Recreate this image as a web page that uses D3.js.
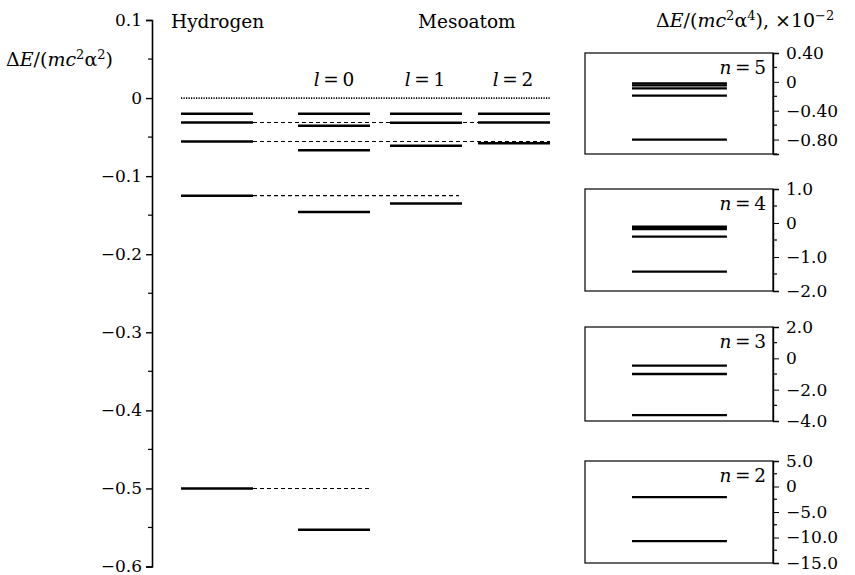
<!DOCTYPE html>
<html>
<head>
<meta charset="utf-8">
<script src="https://cdn.jsdelivr.net/npm/d3@7"></script>
<style>
  body { margin: 0; background: #fff; }
  text { font-family: "DejaVu Serif", serif; fill: #000; }
</style>
</head>
<body>
<svg width="855" height="575"></svg>
<script>
// 数据 —— 左侧：能级 ΔE/(mc²α²)
const columns = ["H", "l=0", "l=1", "l=2"];
const hydrogenLevels = [-0.5, -0.125, -0.0556, -0.03125, -0.02];
const hydrogenReach = ["l=0", "l=1", "l=2", "l=2", null];   // 虚线延伸到哪一列
const mesoL0 = [-0.553, -0.146, -0.0667, -0.0355, -0.02];
const mesoL1 = [-0.135, -0.061, -0.0316, -0.02];
const mesoL2 = [-0.058, -0.0312, -0.02];
const leftTicks = [0.1, 0, -0.1, -0.2, -0.3, -0.4, -0.5, -0.6];
const leftTickLabels = ["0.1", "0", "\u22120.1", "\u22120.2", "\u22120.3", "\u22120.4", "\u22120.5", "\u22120.6"];

// 数据 —— 右侧：精细结构 ΔE/(mc²α⁴) ×10⁻²
const fineN = [5, 4, 3, 2];
const fineDomains = [[0.4, -1.0], [1.0, -2.0], [2.0, -4.0], [5.0, -15.0]];
const fineTicks = [[0.4, 0, -0.4, -0.8], [1, 0, -1, -2], [2, 0, -2, -4], [5, 0, -5, -10, -15]];
const fineMinor = [[0.2, -0.2, -0.6, -1.0], [0.5, -0.5, -1.5], [1, -1, -3], [2.5, -2.5, -7.5, -12.5]];
const fineTickLabels = [
  ["0.40", "0", "\u22120.40", "\u22120.80"],
  ["1.0", "0", "\u22121.0", "\u22122.0"],
  ["2.0", "0", "\u22122.0", "\u22124.0"],
  ["5.0", "0", "\u22125.0", "\u221210.0", "\u221215.0"]
];
const fineLevels = [
  [-0.02, -0.05, -0.09, -0.19, -0.80],
  [-0.11, -0.18, -0.40, -1.43],
  [-0.47, -1.0, -3.62],
  [-2.1, -10.7]
];

// 版面：右侧小框的上下边
const boxTops = [53, 189, 327, 461];
const boxBottoms = [154, 291, 421, 563];

let svg = d3.select("svg");

// 上标文字的小工具
function mathText(sel, parts) {
  parts.forEach(p => {
    const t = sel.append("tspan").text(p.t);
    if (p.i) t.attr("font-style", "italic");
    if (p.up) t.attr("font-size", 13).attr("dy", -7);
    if (p.down) t.attr("dy", 7);
  });
}

// ---------- 左侧面板 ----------
const y = d3.scaleLinear().domain([0.1, -0.6]).range([20, 566.5]);
const xCol = d3.scaleOrdinal().domain(columns).range([181, 298, 390, 478]);
const colW = 72;

const gLeft = svg.append("g");

gLeft.append("g")
  .attr("transform", "translate(152,0)")
  .call(d3.axisLeft(y).tickValues(leftTicks).tickSize(6).tickPadding(4)
    .tickFormat((d, i) => leftTickLabels[i]))
  .call(g => g.select(".domain").attr("stroke-width", 1.6))
  .call(g => g.selectAll(".tick line").attr("stroke-width", 1.4))
  .call(g => g.selectAll("text").attr("font-size", 17));

// 次刻度
gLeft.selectAll(".minor")
  .data(leftTicks.slice(0, -1).map(d => d - 0.05))
  .join("line")
  .attr("x1", 148).attr("x2", 152)
  .attr("y1", d => y(d)).attr("y2", d => y(d))
  .attr("stroke", "#000").attr("stroke-width", 1.2);

// 零点点线
gLeft.append("line")
  .attr("x1", xCol("H")).attr("x2", xCol("l=2") + colW)
  .attr("y1", y(0)).attr("y2", y(0))
  .attr("stroke", "#000").attr("stroke-width", 1.7)
  .attr("stroke-dasharray", "1.2 1.3");

// 氢原子能级向右的虚线
gLeft.selectAll(".reach")
  .data(hydrogenLevels.map((v, i) => ({ v: v, to: hydrogenReach[i] })).filter(d => d.to))
  .join("line")
  .attr("x1", xCol("H") + colW)
  .attr("x2", d => xCol(d.to) + colW - (d.to === "l=1" ? 3 : 0))
  .attr("y1", d => y(d.v)).attr("y2", d => y(d.v))
  .attr("stroke", "#000").attr("stroke-width", 1.1)
  .attr("stroke-dasharray", "4 3");

// 实线能级
const levelSets = [
  { col: "H", vals: hydrogenLevels },
  { col: "l=0", vals: mesoL0 },
  { col: "l=1", vals: mesoL1 },
  { col: "l=2", vals: mesoL2 }
];
levelSets.forEach(set => {
  gLeft.selectAll(null)
    .data(set.vals)
    .join("line")
    .attr("x1", xCol(set.col)).attr("x2", xCol(set.col) + colW)
    .attr("y1", d => y(d)).attr("y2", d => y(d))
    .attr("stroke", "#000").attr("stroke-width", 2.5);
});

// 标题文字
mathText(gLeft.append("text").attr("x", 6).attr("y", 66).attr("font-size", 19), [
  { t: "\u0394" }, { t: "E", i: true }, { t: "/(" }, { t: "mc", i: true },
  { t: "2", up: true }, { t: "\u03b1", down: true }, { t: "2", up: true }, { t: ")", down: true }
]);

gLeft.append("text").attr("x", 171).attr("y", 28).attr("font-size", 18.5).text("Hydrogen");
gLeft.append("text").attr("x", 418).attr("y", 28).attr("font-size", 18.5).text("Mesoatom");

columns.slice(1).forEach(c => {
  const t = gLeft.append("text")
    .attr("x", xCol(c) + colW / 2 - (c === "l=0" ? 0 : 1))
    .attr("y", 86).attr("font-size", 18.5).attr("text-anchor", "middle");
  t.append("tspan").attr("font-style", "italic").text("l");
  t.append("tspan").text("\u2009=\u2009" + c.slice(2));
});

// ---------- 右侧面板 ----------
const boxX = d3.scaleLinear().domain([0, 1]).range([585, 773]);

mathText(svg.append("text").attr("x", 656).attr("y", 27).attr("font-size", 19), [
  { t: "\u0394" }, { t: "E", i: true }, { t: "/(" }, { t: "mc", i: true },
  { t: "2", up: true }, { t: "\u03b1", down: true }, { t: "4", up: true },
  { t: "), \u00d710", down: true }, { t: "\u22122", up: true }
]);

fineN.forEach((n, k) => {
  const top = boxTops[k], bottom = boxBottoms[k];
  const yy = d3.scaleLinear().domain(fineDomains[k]).range([top, bottom]);
  const g = svg.append("g");

  g.append("rect")
    .attr("x", boxX(0)).attr("y", top)
    .attr("width", boxX(1) - boxX(0)).attr("height", bottom - top)
    .attr("fill", "none").attr("stroke", "#000").attr("stroke-width", 1.2);

  g.append("g")
    .attr("transform", "translate(" + boxX(1) + ",0)")
    .call(d3.axisRight(yy).tickValues(fineTicks[k]).tickSize(6).tickPadding(7)
      .tickFormat((d, i) => fineTickLabels[k][i]))
    .call(a => a.select(".domain").attr("stroke-width", 1.4))
    .call(a => a.selectAll("text").attr("font-size", 17));

  g.selectAll(".minor")
    .data(fineMinor[k])
    .join("line")
    .attr("x1", boxX(1)).attr("x2", boxX(1) + 4)
    .attr("y1", d => yy(d)).attr("y2", d => yy(d))
    .attr("stroke", "#000").attr("stroke-width", 1.2);

  g.selectAll(".lev")
    .data(fineLevels[k])
    .join("line")
    .attr("x1", boxX(0.25)).attr("x2", boxX(0.755))
    .attr("y1", d => yy(d)).attr("y2", d => yy(d))
    .attr("stroke", "#000").attr("stroke-width", 2.3);

  const lab = g.append("text")
    .attr("x", boxX(1) - 7).attr("y", top + 21)
    .attr("font-size", 18.5).attr("text-anchor", "end");
  lab.append("tspan").attr("font-style", "italic").text("n");
  lab.append("tspan").text("\u2009=\u2009" + n);
});
</script>
</body>
</html>
